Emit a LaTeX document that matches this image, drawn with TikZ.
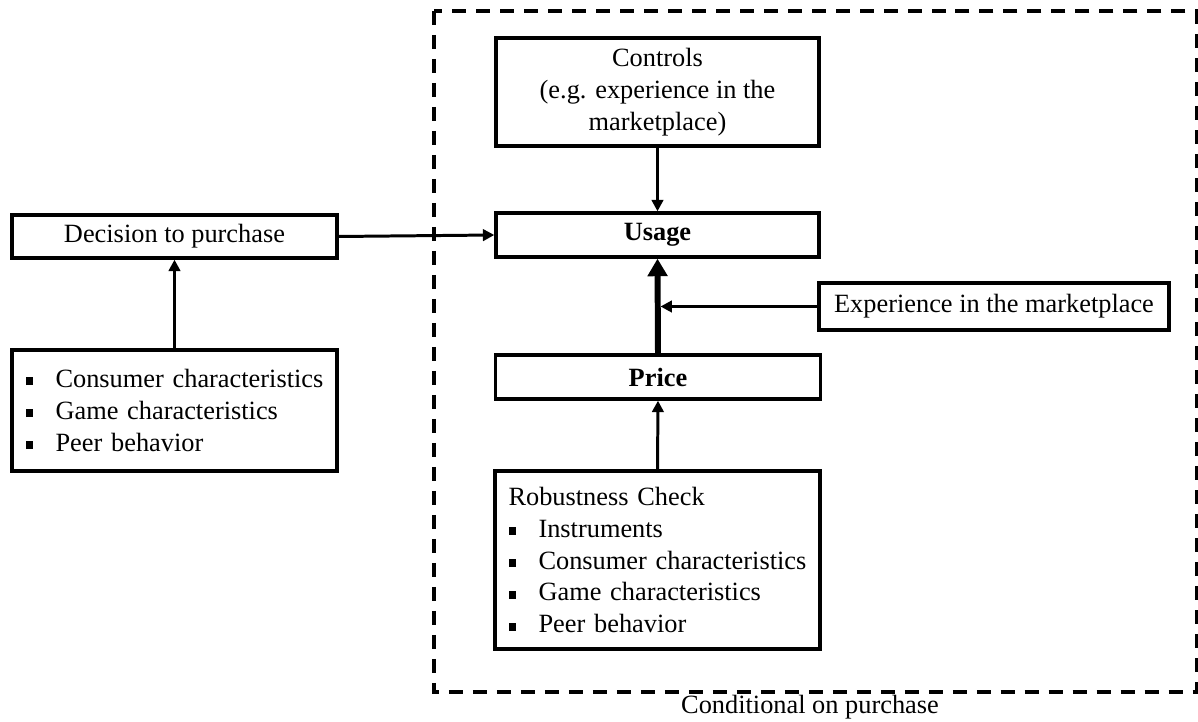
\documentclass[tikz,border=0pt]{standalone}
\usepackage{fontspec}
\setmainfont{Liberation Serif}
\usetikzlibrary{arrows, arrows.meta}
\newcommand{\sqbul}{\makebox[0.6cm][l]{\rule[1.4pt]{4.5pt}{4.5pt}}}

\begin{document}
\begin{tikzpicture}[x=0.02cm,y=-0.02cm,
  box/.style={draw,line width=1.9pt,inner sep=0pt,font=\fontsize{15}{18.2}\selectfont},
  listbox/.style={box,inner xsep=0.27cm,align=left},
  arr/.style={line width=1.7pt,-{Triangle[length=6.5pt,width=6.5pt]}},
  bigarr/.style={line width=3.4pt,-{Triangle[length=10pt,width=11pt]}}]
\useasboundingbox (0,0) rectangle (1198,722);

% purchase side
\node[box,minimum width=6.5cm,minimum height=0.86cm] (dec) at (174.5,236.5){Decision to purchase};
\node[listbox,text width=5.96cm,minimum height=2.42cm] (cons) at (174.5,410.5){\sqbul Consumer characteristics\\ \sqbul Game characteristics\\ \sqbul Peer behavior};

% usage side
\draw[line width=1.9pt,dash pattern=on 0.28cm off 0.2cm] (434,11) rectangle (1196.5,692);
\node[font=\fontsize{15}{18.2}\selectfont] (cond) at (810,707){Conditional on purchase};

\node[box,minimum width=6.46cm,minimum height=2.16cm,align=center] (ctrl) at (657.5,92){Controls\\(e.g. experience in the\\marketplace)};
\node[box,minimum width=6.46cm,minimum height=0.88cm] (usage) at (657.5,235){\textbf{Usage}};
\node[box,minimum width=6.5cm,minimum height=0.88cm] (price) at (658,377){\textbf{Price}};
\node[box,minimum width=7cm,minimum height=0.94cm] (exp) at (994,306.5){Experience in the marketplace};
\node[listbox,text width=5.96cm,minimum height=3.56cm] (rob) at (657.5,560){Robustness Check\\ \sqbul Instruments\\ \sqbul Consumer characteristics\\ \sqbul Game characteristics\\ \sqbul Peer behavior};

\draw[arr] (cons.north) -- (dec.south);
\draw[arr] (dec.east) -- (usage.west);
\draw[arr] (ctrl.south) -- (usage.north);
\draw[arr] (rob.north) -- (price.south);
\draw[bigarr] (price.north) -- (usage.south);
\draw[arr,shorten >=1.7pt] (exp.west) -- (exp.west -| usage.south);
\end{tikzpicture}
\end{document}
